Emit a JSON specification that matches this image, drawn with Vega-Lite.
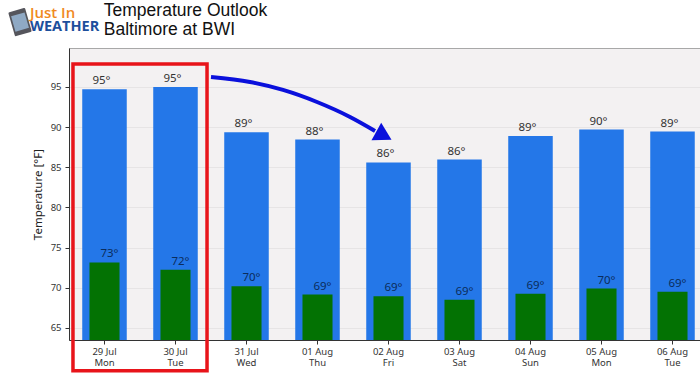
{
"$schema":"https://vega.github.io/schema/vega-lite/v6.json",
"width":631,"height":292,
"autosize":{"type":"none"},
"padding":{"left":69,"top":48,"right":0,"bottom":36},
"background":"#ffffff",
"view":{"fill":"#f3f1f2","stroke":"#a8a8a8","strokeWidth":1},
"datasets":{
"days":[
{"day":"29 Jul|Mon","high":94.7,"low":73.15,"base":63.5,"highLabel":"95°","lowLabel":"73°"},
{"day":"30 Jul|Tue","high":95.0,"low":72.25,"base":63.5,"highLabel":"95°","lowLabel":"72°"},
{"day":"31 Jul|Wed","high":89.35,"low":70.2,"base":63.5,"highLabel":"89°","lowLabel":"70°"},
{"day":"01 Aug|Thu","high":88.45,"low":69.15,"base":63.5,"highLabel":"88°","lowLabel":"69°"},
{"day":"02 Aug|Fri","high":85.6,"low":68.95,"base":63.5,"highLabel":"86°","lowLabel":"69°"},
{"day":"03 Aug|Sat","high":85.96,"low":68.5,"base":63.5,"highLabel":"86°","lowLabel":"69°"},
{"day":"04 Aug|Sun","high":88.9,"low":69.25,"base":63.5,"highLabel":"89°","lowLabel":"69°"},
{"day":"05 Aug|Mon","high":89.7,"low":69.9,"base":63.5,"highLabel":"90°","lowLabel":"70°"},
{"day":"06 Aug|Tue","high":89.45,"low":69.5,"base":63.5,"highLabel":"89°","lowLabel":"69°"}
],
"box":[{"x":-0.444,"x2":1.444,"y":97.86,"y2":59.68}],
"arrow":[
{"x":1.5,"y":96.24},{"x":2.049,"y":95.62},{"x":2.514,"y":94.63},{"x":2.993,"y":93.13},{"x":3.458,"y":91.27},{"x":3.81,"y":89.53}
],
"head":[{"x":3.90,"y":89.12}],
"heading":[{"x":-0.01,"y":104.45,"t":"Temperature Outlook"},{"x":-0.01,"y":102.1,"t":"Baltimore at BWI"}],
"logo1":[{"x":-1.05,"y":104.25,"t":"Just In"}],
"logo2":[{"x":-1.05,"y":102.5,"t":"WEATHER"}],
"phone":[{"x":-1.19,"y":103.08}]
},
"layer":[
{
"data":{"name":"days"},
"encoding":{
"x":{"field":"day","type":"nominal","sort":null,
"scale":{"range":[0,639],"paddingInner":0,"paddingOuter":0},
"axis":{"title":null,"labelAngle":0,"labelExpr":"split(datum.label,'|')","labelFont":"Noto Sans","labelFontSize":9.5,"labelColor":"#333333","labelPadding":2,"labelLineHeight":11,"tickColor":"#333333","tickSize":4,"domainColor":"#333333","domain":true,"grid":false,"labelBaseline":"top"}}
},
"layer":[
{"mark":{"type":"rule","opacity":0},"encoding":{"y":{"field":"high","type":"quantitative",
"scale":{"domain":[63.5,99.85],"nice":false,"zero":false},
"axis":{"title":"Temperature [°F]","titleFont":"Noto Sans","titleFontSize":11.5,"titleFontWeight":"normal","titleColor":"#222222","titlePadding":7,"values":[65,70,75,80,85,90,95],"labelFont":"Noto Sans","labelFontSize":9.5,"labelColor":"#333333","labelPadding":4,"tickColor":"#333333","tickSize":4,"domainColor":"#333333","grid":true,"gridColor":"#e6e4e5","gridWidth":1}}}},
{"mark":{"type":"bar","color":"#2477e8","width":{"band":0.627}},"encoding":{"y":{"field":"high","type":"quantitative"},"y2":{"field":"base"}}},
{"mark":{"type":"bar","color":"#037203","width":{"band":0.423}},"encoding":{"y":{"field":"low","type":"quantitative"},"y2":{"field":"base"}}},
{"mark":{"type":"text","font":"Noto Sans","fontSize":11.5,"color":"#333333","dx":-3,"dy":-8},"encoding":{"y":{"field":"high","type":"quantitative"},"text":{"field":"highLabel"}}},
{"mark":{"type":"text","font":"Noto Sans","fontSize":11.5,"color":"#0b2d5c","dx":5,"dy":-8},"encoding":{"y":{"field":"low","type":"quantitative"},"text":{"field":"lowLabel"}}}
]
},
{
"encoding":{
"x":{"field":"x","type":"quantitative","scale":{"domain":[-0.5,8.387],"nice":false,"zero":false},"axis":null},
"y":{"field":"y","type":"quantitative"}
},
"layer":[
{"data":{"name":"box"},"mark":{"type":"rect","fill":null,"stroke":"#e8141a","strokeWidth":3.5,"clip":false},"encoding":{"x2":{"field":"x2"},"y2":{"field":"y2"}}},
{"data":{"name":"arrow"},"mark":{"type":"line","color":"#0a10dc","strokeWidth":4,"interpolate":"monotone","clip":false}},
{"data":{"name":"head"},"mark":{"type":"point","shape":"triangle","angle":119,"size":400,"filled":true,"opacity":1,"color":"#0a10dc","clip":false}},
{"data":{"name":"phone"},"mark":{"type":"point","shape":"M-0.6,-1 H0.6 Q0.7,-1 0.7,-0.9 V0.9 Q0.7,1 0.6,1 H-0.6 Q-0.7,1 -0.7,0.9 V-0.9 Q-0.7,-1 -0.6,-1 Z","angle":-16,"size":620,"filled":true,"opacity":1,"color":"#55555c","clip":false}},
{"data":{"name":"phone"},"mark":{"type":"point","shape":"M-0.7,-0.8 H0.7 V0.8 H-0.7 Z","angle":-16,"size":400,"filled":true,"opacity":1,"color":"#8fa9c4","clip":false}},
{"data":{"name":"heading"},"mark":{"type":"text","align":"left","font":"Liberation Sans","fontSize":17.5,"color":"#111111","clip":false},"encoding":{"text":{"field":"t"}}},
{"data":{"name":"logo1"},"mark":{"type":"text","align":"left","font":"Open Sans","fontSize":15,"fontWeight":600,"color":"#f08a1d","clip":false},"encoding":{"text":{"field":"t"}}},
{"data":{"name":"logo2"},"mark":{"type":"text","align":"left","font":"Open Sans","fontSize":14.5,"fontWeight":"bold","color":"#1d4f9c","clip":false},"encoding":{"text":{"field":"t"}}}
]
}
],
"resolve":{"scale":{"x":"independent"}}
}
